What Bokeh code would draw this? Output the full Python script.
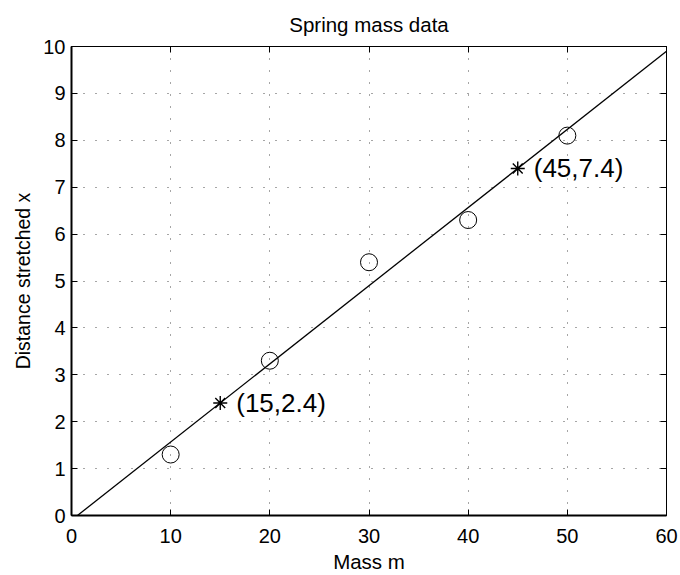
from bokeh.plotting import figure
from bokeh.models import LinearAxis, Range1d, FixedTicker, CustomJSTickFormatter
from bokeh.core.properties import value
from bokeh.embed import file_html
from bokeh.resources import INLINE

# data
mass = [10, 20, 30, 40, 50]
dist = [1.3, 3.3, 5.4, 6.3, 8.1]
fit_x = [0.6, 60]
fit_y = [0.0, 9.9]
star_x = [15, 45]
star_y = [2.4, 7.4]
star_labels = ["(15,2.4)", "(45,7.4)"]
x_ticks = [0, 10, 20, 30, 40, 50, 60]
y_ticks = [0, 1, 2, 3, 4, 5, 6, 7, 8, 9, 10]

FONT = "Liberation Sans"

p = figure(width=680, height=575, output_backend="svg", toolbar_location=None,
           x_range=Range1d(0, 60), y_range=Range1d(0, 10),
           min_border_left=71, min_border_right=14, min_border_top=46, min_border_bottom=59,
           title="Spring mass data")
p.title.text_font = FONT
p.title.text_font_size = "20.5px"
p.title.text_font_style = "normal"
p.title.align = "center"
p.title.text_color = "black"
p.title.offset = 0
p.title.standoff = 21

p.outline_line_color = "black"
p.outline_line_width = 1
p.outline_line_alpha = 1
p.background_fill_color = "white"
p.border_fill_color = "white"

for ax in (p.xaxis[0], p.yaxis[0]):
    ax.major_label_text_font = FONT
    ax.major_label_text_font_size = "20px"
    ax.major_label_text_color = "black"
    ax.axis_label_text_font = FONT
    ax.axis_label_text_font_style = "normal"
    ax.axis_label_text_color = "black"
    ax.axis_line_width = 2
    ax.axis_line_color = "black"
    ax.major_tick_in = 6
    ax.major_tick_out = 0
    ax.major_tick_line_color = "black"
    ax.minor_tick_line_color = None

p.xaxis[0].ticker = FixedTicker(ticks=x_ticks)
p.yaxis[0].ticker = FixedTicker(ticks=y_ticks)
p.xaxis[0].axis_label = "Mass m"
p.yaxis[0].axis_label = "Distance stretched x"
p.xaxis[0].axis_label_text_font_size = "20.5px"
p.yaxis[0].axis_label_text_font_size = "19.5px"
p.xaxis[0].major_label_standoff = 13
p.xaxis[0].axis_label_standoff = 4
p.yaxis[0].major_label_standoff = 6
p.yaxis[0].axis_label_standoff = 6

# mirror axes (top/right) with ticks only
for loc, ticks in (("right", y_ticks), ("above", x_ticks)):
    ax = LinearAxis(ticker=FixedTicker(ticks=ticks),
                    formatter=CustomJSTickFormatter(code="return ''"))
    ax.major_label_standoff = 0
    ax.axis_line_color = "black"
    ax.axis_line_width = 1
    ax.major_tick_in = 6
    ax.major_tick_out = 0
    ax.major_tick_line_color = "black"
    ax.minor_tick_line_color = None
    p.add_layout(ax, loc)

p.xgrid.ticker = FixedTicker(ticks=x_ticks)
p.ygrid.ticker = FixedTicker(ticks=y_ticks)
for g in (p.xgrid[0], p.ygrid[0]):
    g.grid_line_color = "black"
    g.grid_line_alpha = 0.7
    g.grid_line_dash = "1 11"
    g.grid_line_width = 1

p.line(fit_x, fit_y, line_color="black", line_width=1.3)
p.scatter(mass, dist, marker="circle", size=17, fill_color=None, line_color="black", line_width=1)
p.scatter(star_x, star_y, marker="asterisk", size=14, line_color="black", line_width=1.4)
p.text(star_x, star_y, text=star_labels, x_offset=16, text_baseline="middle",
       text_font=value(FONT), text_font_size="26px", text_color="black")

open("out.html", "w").write(file_html(p, INLINE))
